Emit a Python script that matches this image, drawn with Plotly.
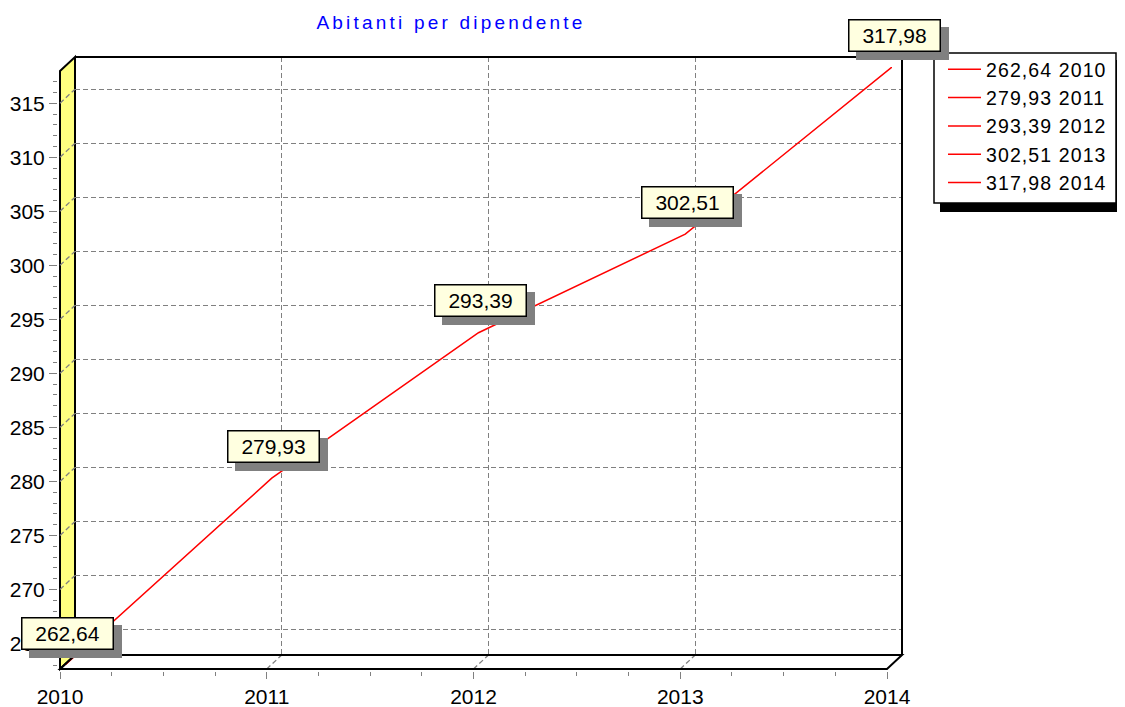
import plotly.graph_objects as go

# ---------------- data ----------------
years = [2010, 2011, 2012, 2013, 2014]
values = [262.64, 279.93, 293.39, 302.51, 317.98]
title_text = "Abitanti per dipendente"
y_major_step = 5
y_minor_step = 1
x_minor_step = 0.25


def it_fmt(v):
    return f"{v:.2f}".replace(".", ",")


point_labels = [it_fmt(v) for v in values]
legend_names = [f"{it_fmt(v)} {y}" for v, y in zip(values, years)]
y_ticks = [t for t in range(0, 400, y_major_step) if min(values) <= t <= max(values)]

# ---------------- geometry (window pixels) ----------------
W, H = 1125, 707                     # browser window
OX, OY = 8, 8                        # default page body margin
FW, FH = W - OX, H - OY              # figure size
L, R, T, B = 60, 887, 71, 669        # front plane of the 3D box
DX, DY = 15, 14                      # depth offset (back wall)
SX, SY = 5, 4                        # series plane offset
LEG = (934, 53, 1116, 203)           # legend frame (x0, y0, x1, y1)

FONT = "Liberation Sans, Arial, sans-serif"
GRAY = "#808080"
BOX_FILL = "#FFFFE0"
WALL = "#FFFF80"


def fx(p):
    return (p - OX) / FW


def fy(p):
    return 1 - (p - OY) / FH


xr = [years[0], years[-1]]
yr = [min(values), max(values)]

fig = go.Figure()

# back wall grid axes (x, y)
fig.add_trace(go.Scatter(x=[None], y=[None], xaxis="x", yaxis="y",
                         showlegend=False, hoverinfo="skip"))
# series (x2, y2)
fig.add_trace(go.Scatter(x=years, y=values, mode="lines",
                         line=dict(color="red", width=1.5),
                         xaxis="x2", yaxis="y2", showlegend=False,
                         hoverinfo="skip"))
for name in legend_names:
    fig.add_trace(go.Scatter(x=[None], y=[None], mode="lines",
                             line=dict(color="red", width=1.5),
                             name=f'<span style="letter-spacing:1.1px">{name}</span>',
                             xaxis="x2", yaxis="y2", hoverinfo="skip"))
# front axes (x3, y3)
fig.add_trace(go.Scatter(x=[None], y=[None], xaxis="x3", yaxis="y3",
                         showlegend=False, hoverinfo="skip"))

grid_common = dict(showgrid=True, gridcolor=GRAY, gridwidth=1.3, griddash="5px,3px",
                   showticklabels=False, ticks="", zeroline=False, showline=False,
                   fixedrange=True, automargin=False)
hidden = dict(visible=False, fixedrange=True, automargin=False)

fig.update_layout(
    width=FW, height=FH, autosize=False,
    margin=dict(l=0, r=0, t=0, b=0, autoexpand=False),
    paper_bgcolor="white", plot_bgcolor="rgba(0,0,0,0)",
    showlegend=True,
    title=dict(text=f'<span style="letter-spacing:3.2px">{title_text}</span>',
               x=fx(451), y=fy(22), xref="paper", yref="paper",
               xanchor="center", yanchor="middle", automargin=False,
               font=dict(family=FONT, size=19, color="#0000FF")),
    xaxis=dict(domain=[fx(L + DX), fx(R + DX)], range=xr, anchor="y",
               tickmode="linear", tick0=years[0], dtick=1, **grid_common),
    yaxis=dict(domain=[fy(B - DY), fy(T - DY)], range=yr, anchor="x",
               tickmode="linear", tick0=0, dtick=y_major_step, **grid_common),
    xaxis2=dict(domain=[fx(L + SX), fx(R + SX)], range=xr, anchor="y2", **hidden),
    yaxis2=dict(domain=[fy(B - SY), fy(T - SY)], range=yr, anchor="x2", **hidden),
    xaxis3=dict(domain=[fx(L), fx(R)], range=xr, anchor="free", position=fy(B + 2),
                tickmode="linear", tick0=years[0], dtick=1,
                ticks="outside", ticklen=7, tickwidth=1, tickcolor=GRAY,
                minor=dict(tickmode="linear", tick0=years[0], dtick=x_minor_step,
                           ticks="outside", ticklen=4, tickwidth=1, tickcolor=GRAY),
                showgrid=False, zeroline=False, showline=False, fixedrange=True,
                automargin=False,
                tickfont=dict(family=FONT, size=21, color="black")),
    yaxis3=dict(domain=[fy(B), fy(T)], range=yr, anchor="free", position=fx(L - 3),
                tickmode="linear", tick0=0, dtick=y_major_step,
                ticks="outside", ticklen=8, tickwidth=1, tickcolor=GRAY,
                minor=dict(tickmode="linear", tick0=0, dtick=y_minor_step,
                           ticks="outside", ticklen=4, tickwidth=1, tickcolor=GRAY),
                showgrid=False, zeroline=False, showline=False, fixedrange=True,
                automargin=False,
                tickfont=dict(family=FONT, size=21, color="black")),
    legend=dict(x=fx(943), y=fy(50), xanchor="left", yanchor="top",
                bgcolor="rgba(0,0,0,0)", borderwidth=0,
                font=dict(family=FONT, size=19.5, color="black"),
                itemwidth=33, tracegroupgap=0),
)

shapes = []
# yellow left wall
shapes.append(dict(type="path", xref="paper", yref="paper", layer="below",
                   path=f"M{fx(L)},{fy(T)} L{fx(L + DX)},{fy(T - DY)} "
                        f"L{fx(L + DX)},{fy(B - DY)} L{fx(L)},{fy(B)} Z",
                   fillcolor=WALL, line=dict(color="black", width=2)))
# diagonal dashed grid lines on left wall (from front tick to back wall)
for v in y_ticks:
    shapes.append(dict(type="line", xref="paper", x0=fx(L), x1=fx(L + DX),
                       yref="y3", ysizemode="pixel", yanchor=v, y0=0, y1=DY,
                       line=dict(color=GRAY, width=1.3, dash="5px,3px"), layer="above"))
# diagonal dashed grid lines on floor
for yv in years[1:-1]:
    shapes.append(dict(type="line", yref="paper", y0=fy(B), y1=fy(B - DY),
                       xref="x3", xsizemode="pixel", xanchor=yv, x0=0, x1=DX,
                       line=dict(color=GRAY, width=1.3, dash="5px,3px"), layer="above"))
# floor outline
shapes.append(dict(type="path", xref="paper", yref="paper", layer="above",
                   path=f"M{fx(L)},{fy(B)} L{fx(L + DX)},{fy(B - DY)} "
                        f"L{fx(R + DX)},{fy(B - DY)} L{fx(R)},{fy(B)} Z",
                   fillcolor="rgba(0,0,0,0)", line=dict(color="black", width=2)))
# back wall top & right edges
shapes.append(dict(type="line", xref="paper", yref="paper", layer="above",
                   x0=fx(L + DX), x1=fx(R + DX), y0=fy(T - DY), y1=fy(T - DY),
                   line=dict(color="black", width=2)))
shapes.append(dict(type="line", xref="paper", yref="paper", layer="above",
                   x0=fx(R + DX), x1=fx(R + DX), y0=fy(T - DY), y1=fy(B - DY),
                   line=dict(color="black", width=2)))
# legend shadow and frame
shapes.append(dict(type="rect", xref="paper", yref="paper", layer="above",
                   x0=fx(LEG[0] + 6), x1=1, y0=fy(LEG[3] + 9), y1=fy(LEG[1] + 7),
                   fillcolor="black", line=dict(width=0)))
shapes.append(dict(type="rect", xref="paper", yref="paper", layer="above",
                   x0=fx(LEG[0]), x1=fx(LEG[2]), y0=fy(LEG[3]), y1=fy(LEG[1]),
                   fillcolor="white", line=dict(color="black", width=1.5)))
fig.update_layout(shapes=shapes)

annotations = []
for yv, v, lab in zip(years, values, point_labels):
    annotations.append(dict(x=yv, y=v, xref="x2", yref="y2", text=lab,
                            showarrow=False, xshift=2 + 8, yshift=32 - 8,
                            width=88, height=28, borderpad=1, borderwidth=1.5,
                            bgcolor=GRAY, bordercolor=GRAY,
                            font=dict(family=FONT, size=21, color=GRAY)))
    annotations.append(dict(x=yv, y=v, xref="x2", yref="y2", text=lab,
                            showarrow=False, xshift=2, yshift=32,
                            width=88, height=28, borderpad=1, borderwidth=1.5,
                            bgcolor=BOX_FILL, bordercolor="black",
                            font=dict(family=FONT, size=21, color="black")))
fig.update_layout(annotations=annotations)

fig.write_html("out.html")
